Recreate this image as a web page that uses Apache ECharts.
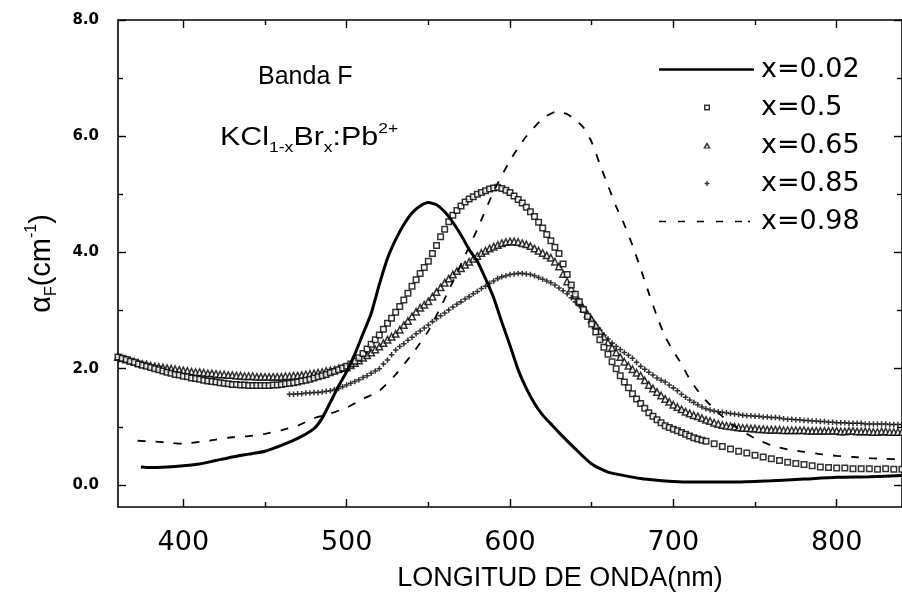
<!DOCTYPE html>
<html><head><meta charset="utf-8">
<script src="https://cdn.jsdelivr.net/npm/echarts@6/dist/echarts.min.js"></script>
<style>html,body{margin:0;padding:0;background:#fff;overflow:hidden}#chart{width:902px;height:597px}</style>
</head><body><div id="chart"></div>
<script>
// ---- data ----
const seriesNames = ['x=0.02', 'x=0.5', 'x=0.65', 'x=0.85', 'x=0.98'];
const xMajorTicks = [400, 500, 600, 700, 800];
const xMinorTicks = [450, 550, 650, 750];
const yMajorTicks = [0, 2, 4, 6, 8];
const yMinorTicks = [1, 3, 5, 7];

// x=0.02 (solid line)
const nm002 = [374,380,390,400,410,420,430,440,450,460,470,480,485,490,495,500,505,510,515,520,525,530,535,540,545,550,555,560,565,570,575,580,585,590,595,600,605,610,615,620,625,630,640,650,660,670,680,690,700,710,720,740,760,780,800,820,840];
const alpha002 = [0.31,0.30,0.31,0.33,0.36,0.42,0.48,0.53,0.58,0.68,0.80,0.97,1.15,1.42,1.70,1.95,2.25,2.60,2.95,3.45,3.90,4.22,4.48,4.68,4.80,4.86,4.82,4.70,4.52,4.30,4.05,3.85,3.55,3.22,2.80,2.40,1.98,1.66,1.40,1.20,1.05,0.90,0.62,0.36,0.22,0.16,0.11,0.08,0.06,0.05,0.05,0.05,0.07,0.10,0.13,0.14,0.16];

// wavelength grids of the marker series
const nmFlatL = [360,362.5,365,367.5,370,372.5,375,377.5,380,382.5,385,387.5,390,392.5,395,397.5,400,402.5,405,407.5,
  410,412.5,415,417.5,420,422.5,425,427.5,430,432.5,435,437.5,440,442.5,445,447.5,450,452.5,455,457.5,
  460,462.5,465,467.5,470,472.5,475,477.5,480,482.5,485,487.5,490,492.5,495,497.5,500];
const nmPlusL = [465,467.5,470,472.5,475,477.5,480,482.5,485,487.5,490,492.5,495,497.5,500];
const nmRise = [502.5,505,507.5,510,512.5,515,517.5,520,522.5,525,527.5,530,532.5,535,537.5,540,542.5,545,547.5,550,
  552.5,555,557.5,560,562.5,565,567.5,570,572.5,575,577.5,580,582.5,585,587.5,590,592.5,595,597.5,600,
  602.5,605,607.5,610,612.5,615,617.5,620,622.5,625,627.5,630,632.5,635,637.5,640,642.5,645,647.5,650,
  652.5,655,657.5,660,662.5,665,667.5,670,672.5,675,677.5,680,682.5,685,687.5,690,692.5,695,697.5,700,
  702.5,705,707.5,710,712.5,715,717.5,720];
const nmTail5 = [725,730,735,740,745,750,755,760,765,770,775,780,785,790,795,800,805,810,815,820,825,830,835,840];
const nmTail25 = [722.5,725,727.5,730,732.5,735,737.5,740,742.5,745,747.5,750,752.5,755,757.5,760,762.5,765,767.5,770,
  772.5,775,777.5,780,782.5,785,787.5,790,792.5,795,797.5,800,802.5,805,807.5,810,812.5,815,817.5,820,
  822.5,825,827.5,830,832.5,835,837.5,840];

// x=0.5 (squares)
const a05L = [2.20,2.18,2.16,2.13,2.11,2.08,2.06,2.04,2.02,2.00,
  1.98,1.96,1.94,1.92,1.90,1.89,1.87,1.86,1.84,1.83,
  1.82,1.80,1.79,1.78,1.77,1.76,1.75,1.74,1.73,1.73,
  1.72,1.72,1.71,1.71,1.71,1.71,1.71,1.71,1.72,1.72,
  1.73,1.74,1.75,1.76,1.77,1.79,1.80,1.82,1.84,1.86,
  1.88,1.90,1.93,1.95,1.98,2.01,2.04];
const a05Rise = [2.08,2.13,2.19,2.26,2.34,2.42,2.50,2.58,2.68,2.78,2.87,2.97,3.07,3.18,3.30,3.42,3.53,3.64,3.74,3.85,
  3.98,4.12,4.27,4.40,4.53,4.64,4.72,4.80,4.87,4.92,4.96,5.00,5.03,5.06,5.09,5.11,5.12,5.10,5.07,5.03,
  4.97,4.91,4.85,4.78,4.70,4.62,4.52,4.42,4.31,4.20,4.09,3.98,3.80,3.62,3.44,3.28,3.15,3.02,2.90,2.77,
  2.63,2.50,2.37,2.25,2.12,2.00,1.88,1.77,1.67,1.57,1.48,1.40,1.32,1.24,1.18,1.12,1.07,1.02,0.99,0.96,
  0.93,0.90,0.87,0.84,0.81,0.79,0.77,0.75];
const a05Tail = [0.71,0.66,0.62,0.58,0.55,0.51,0.48,0.45,0.42,0.39,0.37,0.35,0.33,0.31,0.30,0.29,0.29,0.28,0.28,0.28,0.27,0.28,0.27,0.27];

// x=0.65 (triangles)
const a065L = [2.20,2.18,2.16,2.14,2.12,2.10,2.08,2.07,2.05,2.04,
  2.03,2.02,2.01,2.00,1.99,1.98,1.97,1.96,1.95,1.94,
  1.94,1.93,1.92,1.92,1.91,1.90,1.90,1.89,1.89,1.88,
  1.88,1.87,1.87,1.87,1.86,1.86,1.86,1.86,1.86,1.86,
  1.86,1.87,1.87,1.88,1.88,1.89,1.90,1.91,1.92,1.93,
  1.94,1.96,1.97,1.98,2.00,2.01,2.02];
const a065Rise = [2.06,2.10,2.14,2.19,2.23,2.28,2.33,2.38,2.44,2.50,2.55,2.60,2.67,2.75,2.82,2.90,2.98,3.05,3.10,3.16,
  3.24,3.32,3.40,3.48,3.55,3.62,3.68,3.73,3.79,3.84,3.89,3.94,3.99,4.03,4.07,4.10,4.13,4.16,4.18,4.19,
  4.19,4.18,4.16,4.14,4.11,4.07,4.03,3.99,3.95,3.91,3.84,3.76,3.63,3.50,3.38,3.26,3.15,3.04,2.94,2.85,
  2.75,2.65,2.55,2.45,2.36,2.28,2.20,2.12,2.05,1.99,1.93,1.88,1.80,1.72,1.66,1.60,1.54,1.48,1.43,1.38,
  1.34,1.30,1.26,1.23,1.20,1.18,1.15,1.12];
const a065Tail = [1.10,1.07,1.05,1.03,1.02,1.01,1.00,0.99,0.98,0.98,
  0.97,0.97,0.96,0.96,0.95,0.95,0.95,0.95,0.94,0.94,
  0.94,0.94,0.94,0.94,0.93,0.93,0.93,0.93,0.93,0.93,
  0.93,0.93,0.92,0.92,0.93,0.93,0.92,0.92,0.92,0.92,
  0.91,0.91,0.92,0.92,0.91,0.91,0.91,0.91];

// x=0.85 (plus signs)
const a085L = [1.56,1.56,1.57,1.57,1.58,1.58,1.59,1.59,1.60,1.61,1.62,1.64,1.66,1.69,1.72];
const a085Rise = [1.75,1.78,1.81,1.85,1.88,1.92,1.96,2.00,2.08,2.15,2.24,2.32,2.38,2.43,2.49,2.54,2.60,2.65,2.70,2.75,
  2.81,2.86,2.91,2.96,3.01,3.06,3.11,3.15,3.20,3.24,3.29,3.33,3.38,3.42,3.47,3.51,3.55,3.58,3.60,3.62,
  3.63,3.64,3.64,3.63,3.62,3.60,3.57,3.54,3.51,3.48,3.44,3.39,3.34,3.29,3.22,3.15,3.08,3.00,2.92,2.84,
  2.75,2.66,2.58,2.51,2.44,2.38,2.33,2.28,2.23,2.18,2.11,2.04,1.99,1.94,1.89,1.84,1.80,1.77,1.72,1.67,
  1.62,1.56,1.51,1.46,1.42,1.38,1.34,1.31];
const a085Tail = [1.29,1.27,1.26,1.25,1.24,1.23,1.22,1.21,1.20,1.19,
  1.19,1.18,1.18,1.17,1.17,1.16,1.16,1.15,1.14,1.13,
  1.13,1.12,1.12,1.11,1.11,1.10,1.10,1.09,1.09,1.08,
  1.08,1.07,1.07,1.07,1.06,1.06,1.06,1.06,1.05,1.05,
  1.05,1.05,1.05,1.05,1.04,1.04,1.04,1.04];

// x=0.98 (dashed line)
const nm098 = [372,380,390,400,410,420,430,440,450,460,470,480,490,500,510,520,530,540,550,560,570,580,590,600,610,620,628,635,640,645,650,655,660,665,670,675,680,685,690,695,700,705,710,715,720,730,740,750,760,770,780,790,800,810,820,830,840];
const alpha098 = [0.76,0.75,0.73,0.71,0.74,0.78,0.82,0.84,0.88,0.94,1.02,1.15,1.23,1.33,1.48,1.62,1.90,2.25,2.65,3.20,3.80,4.40,5.05,5.58,6.00,6.30,6.42,6.38,6.28,6.15,5.90,5.52,5.15,4.79,4.48,4.12,3.72,3.30,2.90,2.55,2.30,2.08,1.82,1.62,1.45,1.18,0.96,0.80,0.68,0.61,0.57,0.53,0.50,0.48,0.46,0.45,0.44];

// ---- chart ----
const K = '#000';
const zip = (xs, ys) => xs.map((x, i) => [x, ys[i]]);
const nm05 = nmFlatL.concat(nmRise, nmTail5), alpha05 = a05L.concat(a05Rise, a05Tail);
const nm065 = nmFlatL.concat(nmRise, nmTail25), alpha065 = a065L.concat(a065Rise, a065Tail);
const nm085 = nmPlusL.concat(nmRise, nmTail25), alpha085 = a085L.concat(a085Rise, a085Tail);

const chart = echarts.init(document.getElementById('chart'), null, {renderer: 'canvas'});

function xAxisDef(position, ticks, len, showLine, label) {
  return {
    type: 'value', position: position, min: 360, max: 840,
    splitLine: {show: false},
    axisLine: {show: showLine, onZero: false, lineStyle: {color: K, width: 1.6}},
    axisTick: {show: true, inside: true, length: len, customValues: ticks, lineStyle: {color: K, width: 1.4}},
    axisLabel: label ? {show: true, customValues: ticks, color: K, fontSize: 27, fontFamily: 'DejaVu Sans', margin: 22,
      formatter: v => String(v)} : {show: false}
  };
}
function yAxisDef(position, ticks, len, showLine, label) {
  return {
    type: 'value', position: position, min: -0.38, max: 8,
    splitLine: {show: false},
    axisLine: {show: showLine, onZero: false, lineStyle: {color: K, width: 1.6}},
    axisTick: {show: true, inside: true, length: len, customValues: ticks, lineStyle: {color: K, width: 1.4}},
    axisLabel: label ? {show: true, customValues: ticks, color: K, fontSize: 15, fontWeight: 'bold', fontFamily: 'DejaVu Sans', margin: 19,
      formatter: v => v.toFixed(1)} : {show: false}
  };
}

const xMain = xAxisDef('bottom', xMajorTicks, 8, true, true);
xMain.name = 'LONGITUD DE ONDA(nm)';
xMain.nameLocation = 'middle';
xMain.nameGap = 58;
xMain.nameTextStyle = {color: K, fontSize: 27, fontFamily: 'Liberation Sans', padding: [0, 0, 0, 100]};

const yMain = yAxisDef('left', yMajorTicks, 8, true, true);
yMain.name = '{m|α}{s|F}{m|(cm}{p|-1}{m|)}';
yMain.nameLocation = 'middle';
yMain.nameRotate = 90;
yMain.nameGap = 58;
yMain.nameTextStyle = {
  color: K,
  rich: {
    m: {fontSize: 29, lineHeight: 36, fontFamily: 'Liberation Sans', color: K},
    s: {fontSize: 16, lineHeight: 8, verticalAlign: 'bottom', fontFamily: 'Liberation Sans', color: K},
    p: {fontSize: 16, lineHeight: 10, verticalAlign: 'top', fontFamily: 'Liberation Sans', color: K}
  }
};

const legendIcons = {
  'x=0.02': 'path://M0 0M97 14M0 5.7H95V8.3H0Z',
  'x=0.5': 'path://M0 0M97 14M45 4H51V10H45Z M46.5 5.5V8.5H49.5V5.5Z',
  'x=0.65': 'path://M0 0M97 14M48 3.5L51.8 10H44.2Z M48 6.4L46.6 8.9H49.4Z',
  'x=0.85': 'path://M0 0M97 14M45.6 6.3H50.4V7.7H45.6Z M47.3 4.6H48.7V9.4H47.3Z',
  'x=0.98': 'path://M0 0M97 14M0 6.2H7V7.8H0Z M19 6.2H26V7.8H19Z M38 6.2H45V7.8H38Z M57 6.2H64V7.8H57Z M76 6.2H83V7.8H76Z M89 6.2H91V7.8H89Z'
};

const option = {
  animation: false,
  backgroundColor: '#fff',
  grid: {left: 118, top: 20, right: -3, bottom: 89, containLabel: false},
  xAxis: [
    xMain,
    xAxisDef('bottom', xMinorTicks, 5, false, false),
    xAxisDef('top', xMajorTicks, 8, true, false),
    xAxisDef('top', xMinorTicks, 5, false, false)
  ],
  yAxis: [
    yMain,
    yAxisDef('left', yMinorTicks, 5, false, false),
    yAxisDef('right', yMajorTicks, 8, true, false),
    yAxisDef('right', yMinorTicks, 5, false, false)
  ],
  legend: {
    orient: 'vertical', left: 654, top: 51,
    itemWidth: 97, itemHeight: 14, itemGap: 11,
    selectedMode: false,
    textStyle: {color: K, fontSize: 27, fontFamily: 'DejaVu Sans'},
    data: seriesNames.map(n => ({name: n, icon: legendIcons[n], itemStyle: {color: K, borderWidth: 0, borderColor: K}}))
  },
  graphic: [
    {type: 'text', x: 258, y: 65, z: 10,
      style: {text: 'Banda F', fontSize: 25, fontFamily: 'Liberation Sans', fill: K}},
    {type: 'text', x: 220, y: 121, scaleX: 1.17, z: 10,
      style: {
        text: '{m|KCl}{s|1-x}{m|Br}{s|x}{m|:Pb}{p|2+}',
        rich: {
          m: {fontSize: 26, lineHeight: 34, fontFamily: 'Liberation Sans', fill: K},
          s: {fontSize: 15, lineHeight: 8, verticalAlign: 'bottom', fontFamily: 'Liberation Sans', fill: K},
          p: {fontSize: 15, lineHeight: 10, verticalAlign: 'top', fontFamily: 'Liberation Sans', fill: K}
        }
      }}
  ],
  series: [
    {name: 'x=0.98', type: 'line', xAxisIndex: 0, yAxisIndex: 0, data: zip(nm098, alpha098),
      showSymbol: false, symbol: 'none', smooth: 0.2, color: K,
      lineStyle: {color: K, width: 1.8, type: [8, 10]}},
    {name: 'x=0.02', type: 'line', xAxisIndex: 0, yAxisIndex: 0, data: zip(nm002, alpha002),
      showSymbol: false, symbol: 'none', smooth: 0.2, color: K,
      lineStyle: {color: K, width: 3}},
    {name: 'x=0.85', type: 'scatter', xAxisIndex: 0, yAxisIndex: 0, data: zip(nm085, alpha085),
      symbol: 'path://M0 1.8H5V3.2H0Z M1.8 0H3.2V5H1.8Z', symbolSize: 5.5, color: K,
      itemStyle: {color: K, borderWidth: 0}},
    {name: 'x=0.65', type: 'scatter', xAxisIndex: 0, yAxisIndex: 0, data: zip(nm065, alpha065),
      symbol: 'triangle', symbolSize: 6.5, color: K,
      itemStyle: {color: '#fff', borderColor: K, borderWidth: 1.5}},
    {name: 'x=0.5', type: 'scatter', xAxisIndex: 0, yAxisIndex: 0, data: zip(nm05, alpha05),
      symbol: 'rect', symbolSize: 5.5, color: K,
      itemStyle: {color: '#fff', borderColor: K, borderWidth: 1.5}}
  ]
};
chart.setOption(option);
</script></body></html>
